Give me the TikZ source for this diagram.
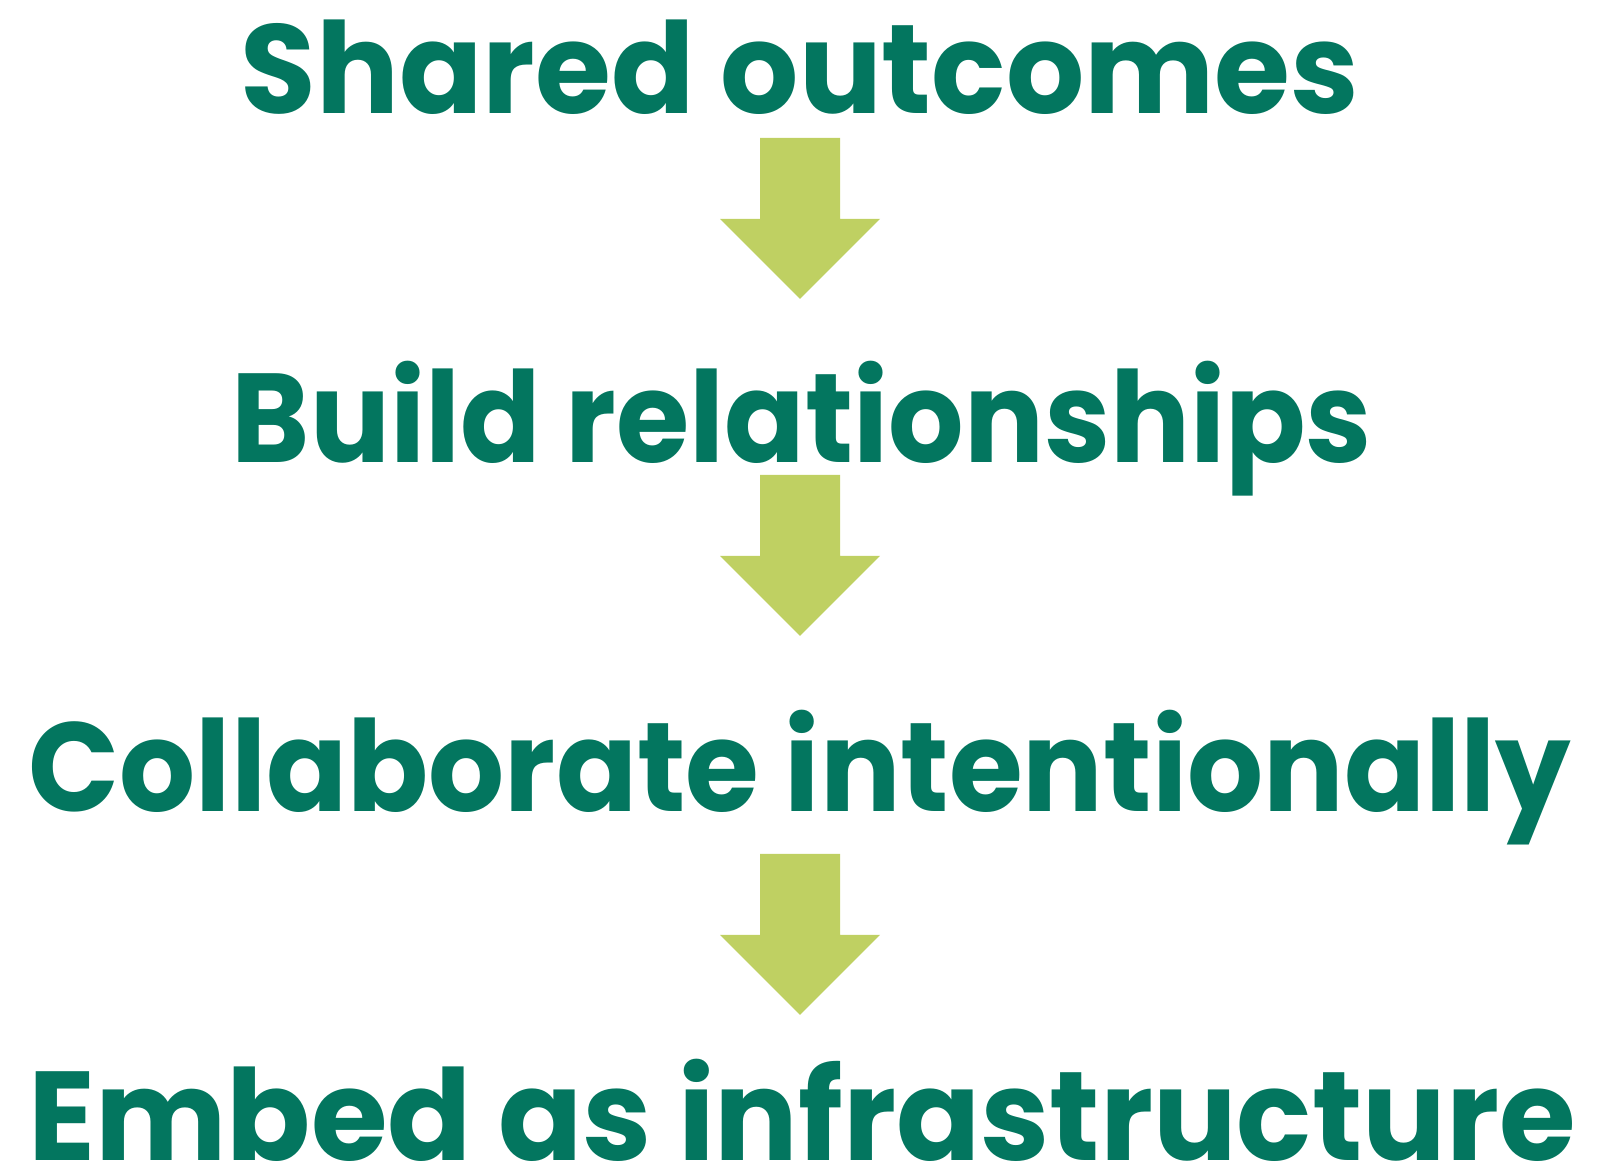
\documentclass[tikz,border=0pt]{standalone}
\usepackage{fontspec}
\setmainfont{Poppins}
\usepackage{tikz}
\usetikzlibrary {positioning, shapes, arrows.meta}

\definecolor{stepgreen}{HTML}{03765F}
\definecolor{arrowlime}{HTML}{BFD062}

\tikzset{
  stage/.style={text=stepgreen, font=\fontsize{36}{40}\selectfont\bfseries, inner sep=0pt, anchor=base},
  downarrow/.style={fill=arrowlime}
}

\begin{document}
\begin{tikzpicture}
    % page frame
    \useasboundingbox (0,0) rectangle (16.18,11.66);

    % the four stages
    \node[stage] (outcomes) at (8.0,10.525) {\scalebox{0.972}[1]{Shared outcomes}};
    \node[stage] (relations) at (8.02,7.03) {\scalebox{0.938}[1]{Build relationships}};
    \node[stage] (collab) at (8.0,3.54) {\scalebox{0.945}[1]{Collaborate intentionally}};
    \node[stage] (embed) at (8.02,0.05) {\scalebox{0.981}[1]{Embed as infrastructure}};

    % arrows between them
    \coordinate (arrowA) at (8.0,10.28);
    \coordinate (arrowB) at (8.0,6.91);
    \coordinate (arrowC) at (8.0,3.12);
    \foreach \a in {arrowA, arrowB, arrowC}
      \fill[downarrow] (\a) ++(-0.4,0) -- ++(0,-0.81) -- ++(-0.4,0) -- ++(0.8,-0.8)
        -- ++(0.8,0.8) -- ++(-0.4,0) -- ++(0,0.81) -- cycle;

  \end{tikzpicture}
\end{document}
